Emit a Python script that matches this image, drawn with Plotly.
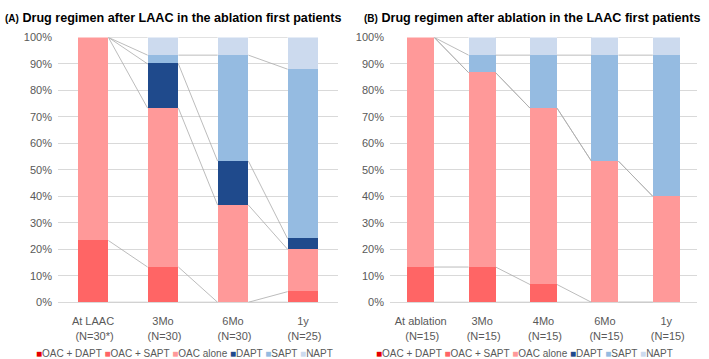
import plotly.graph_objects as go

# ---------------- data ----------------
series_names = ["OAC + DAPT", "OAC + SAPT", "OAC alone", "DAPT", "SAPT", "NAPT"]
series_colors = ["#E60000", "#FF6565", "#FF9999", "#1F4A8C", "#95BBE1", "#CCDAEE"]

cats_a = ["At LAAC", "3Mo", "6Mo", "1y"]
n_a = ["(N=30*)", "(N=30)", "(N=30)", "(N=25)"]
oac_dapt_a = [0, 0, 0, 0]
oac_sapt_a = [23.3, 13.3, 0, 4]
oac_alone_a = [76.7, 60.0, 36.7, 16]
dapt_a = [0, 16.7, 16.6, 4]
sapt_a = [0, 3.3, 40.0, 64]
napt_a = [0, 6.7, 6.7, 12]

cats_b = ["At ablation", "3Mo", "4Mo", "6Mo", "1y"]
n_b = ["(N=15)", "(N=15)", "(N=15)", "(N=15)", "(N=15)"]
oac_dapt_b = [0, 0, 0, 0, 0]
oac_sapt_b = [13.3, 13.3, 6.7, 0, 0]
oac_alone_b = [86.7, 73.4, 66.6, 53.3, 40.0]
dapt_b = [0, 0, 0, 0, 0]
sapt_b = [0, 6.6, 20.0, 40.0, 53.3]
napt_b = [0, 6.7, 6.7, 6.7, 6.7]

title_a = "Drug regimen after LAAC in the ablation first patients"
title_b = "Drug regimen after ablation in the LAAC first patients"

# ---------------- figure ----------------
W, H = 709, 359
BAR_W = 0.44
fig = go.Figure()

panels = [
    (cats_a, n_a, [oac_dapt_a, oac_sapt_a, oac_alone_a, dapt_a, sapt_a, napt_a], "x", "y"),
    (cats_b, n_b, [oac_dapt_b, oac_sapt_b, oac_alone_b, dapt_b, sapt_b, napt_b], "x2", "y2"),
]

for cats, ns, vals, xa, ya in panels:
    xs = list(range(len(cats)))
    for name, col, v in zip(series_names, series_colors, vals):
        fig.add_trace(go.Bar(
            x=xs, y=[p / 100 for p in v], name=name, width=BAR_W,
            marker=dict(color=col, line=dict(width=0)),
            xaxis=xa, yaxis=ya, showlegend=False, hoverinfo="skip"))
    # series lines (connect tops of each stacked series between neighbours)
    cum = [0.0] * len(cats)
    for v in vals:
        cum = [c + p / 100 for c, p in zip(cum, v)]
        lx, ly = [], []
        for i in range(len(cats) - 1):
            lx += [xs[i] + BAR_W / 2, xs[i + 1] - BAR_W / 2, None]
            ly += [cum[i], cum[i + 1], None]
        fig.add_trace(go.Scatter(
            x=lx, y=ly, mode="lines", line=dict(color="#ABABAB", width=0.8),
            xaxis=xa, yaxis=ya, showlegend=False, hoverinfo="skip"))

tick_font = dict(family="Liberation Sans, Arial", size=11, color="#595959")
ydom = [1 - 306.5 / H, 1 - 32.5 / H]


def xaxis_cfg(cats, ns, d0, d1):
    return dict(
        domain=[d0 / W, d1 / W], range=[-0.5, len(cats) - 0.5],
        tickmode="array", tickvals=list(range(len(cats))),
        ticktext=[f"{c}<br> {n}" for c, n in zip(cats, ns)],
        tickfont=tick_font, showgrid=False, zeroline=False,
        showline=False, ticks="", ticklabelstandoff=11, fixedrange=True)


def yaxis_cfg(anchor):
    return dict(
        domain=ydom, range=[0, 1], tickformat=".0%", dtick=0.1, tick0=0,
        tickfont=tick_font, showgrid=True, gridcolor="#D9D9D9", gridwidth=1,
        zeroline=True, zerolinecolor="#D9D9D9", zerolinewidth=1,
        showline=False, ticks="", ticklabelstandoff=5, anchor=anchor,
        fixedrange=True)


fig.update_layout(
    width=W, height=H, barmode="stack", bargap=0,
    margin=dict(l=0, r=0, t=0, b=0),
    plot_bgcolor="white", paper_bgcolor="white",
    xaxis=dict(xaxis_cfg(cats_a, n_a, 58, 338), anchor="y"),
    xaxis2=dict(xaxis_cfg(cats_b, n_b, 390, 697), anchor="y2"),
    yaxis=yaxis_cfg("x"),
    yaxis2=yaxis_cfg("x2"),
)

# titles
for lab, txt, x0 in [("(A)", title_a, 3), ("(B)", title_b, 362)]:
    fig.add_annotation(
        x=x0 / W, y=1 - 12 / H, xref="paper", yref="paper",
        xanchor="left", yanchor="middle", showarrow=False,
        text=f"<span style='font-size:10px'><b>{lab}</b></span> <b>{txt}</b>",
        font=dict(family="Liberation Sans, Arial", size=12.6, color="#000000"))

# legends (one per panel)
leg_parts = []
for name, col in zip(series_names, series_colors):
    leg_parts.append(f"<span style='color:{col}'>■</span>{name}")
leg_text = " ".join(leg_parts)
for x0 in [34, 374]:
    fig.add_annotation(
        x=x0 / W, y=1 - 360 / H, xref="paper", yref="paper",
        xanchor="left", yanchor="middle", showarrow=False,
        text=leg_text,
        font=dict(family="Liberation Sans, Arial", size=10, color="#595959"))

fig.write_html("out.html", config={"displayModeBar": False},
               post_script="document.body.style.margin='0px';")
